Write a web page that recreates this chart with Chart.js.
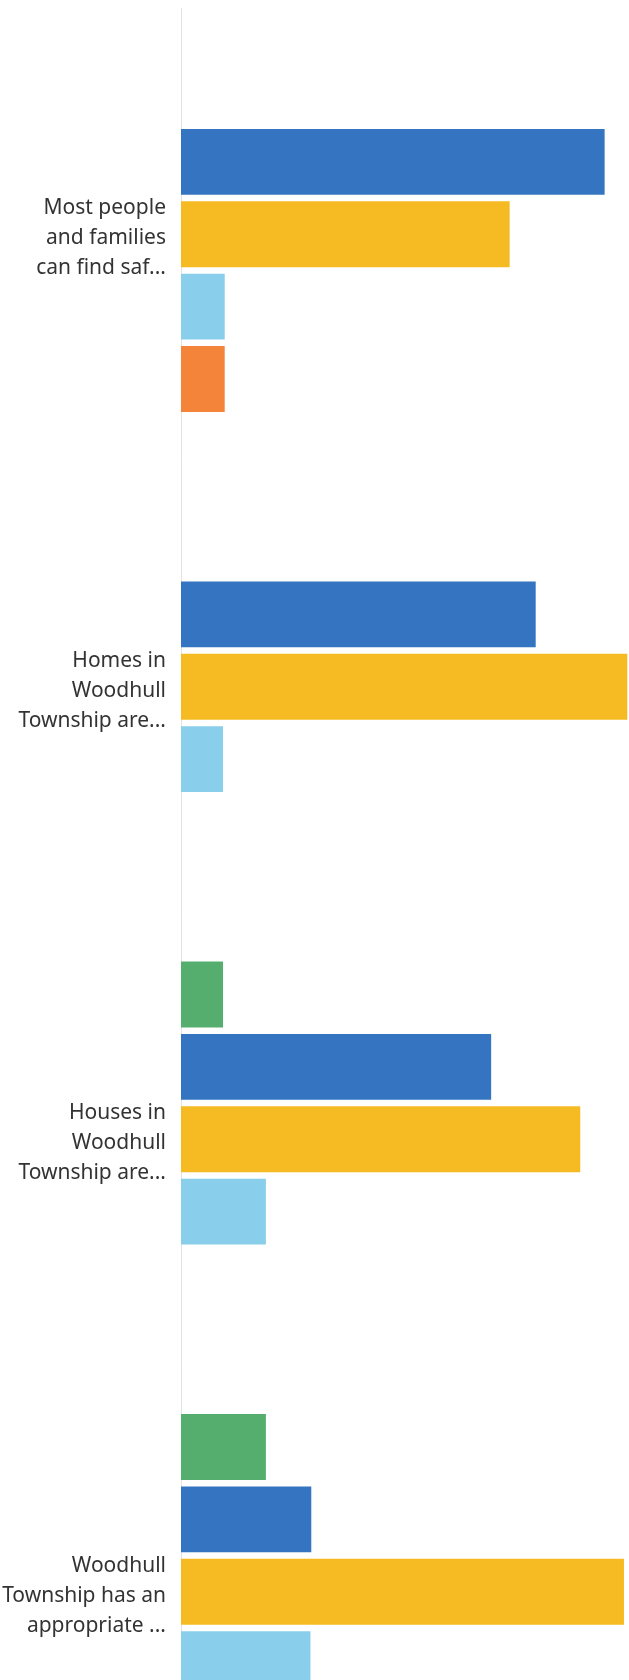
<!DOCTYPE html>
<html>
<head>
<meta charset="utf-8">
<script src="https://cdn.jsdelivr.net/npm/chart.js@4"></script>
<style>
  html, body {
    margin: 0;
    padding: 0;
    background: #ffffff;
  }
  #clip {
    position: relative;
    width: 629px;
    height: 1680px;
    overflow: hidden;
  }
  #wrap {
    position: absolute;
    left: 0;
    top: 0;
    width: 629px;
    height: 1818px;
  }
</style>
</head>
<body>
<div id="clip"><div id="wrap"><canvas id="barChart"></canvas></div></div>
<script>
const labels = [
  ["Most people", "and families", "can find saf..."],
  ["Homes in", "Woodhull", "Township are..."],
  ["Houses in", "Woodhull", "Township are..."],
  ["Woodhull", "Township has an", "appropriate ..."],
];

// percent of answers per statement
const stronglyAgree = [null, null, 5.0, 10.1];
const agree = [50.4, 42.2, 36.9, 15.5];
const neutral = [39.1, 53.1, 47.5, 52.7];
const disagree = [5.2, 5.0, 10.1, 15.4];
const stronglyDisagree = [5.2, null, null, 6.3];

const data = {
  labels: labels,
  datasets: [
    { label: "Strongly agree", data: stronglyAgree, backgroundColor: "#55ad6e" },
    { label: "Agree", data: agree, backgroundColor: "#3474c0" },
    { label: "Neither agree nor disagree", data: neutral, backgroundColor: "#f6bb22" },
    { label: "Disagree", data: disagree, backgroundColor: "#89cfeb" },
    { label: "Strongly disagree", data: stronglyDisagree, backgroundColor: "#f5843b" },
  ],
};

new Chart(document.getElementById("barChart"), {
  type: "bar",
  data: data,
  options: {
    indexAxis: "y",
    responsive: true,
    maintainAspectRatio: false,
    animation: false,
    categoryPercentage: 0.8,
    barPercentage: 0.91,
    layout: { padding: { top: 8, right: 0, bottom: 0, left: 0 } },
    plugins: {
      legend: { display: false },
      tooltip: { enabled: false },
    },
    scales: {
      x: {
        display: false,
        min: 0,
        max: 53.3,
      },
      y: {
        grid: { display: false, drawTicks: false },
        border: { display: true, color: "#e2e2e2", width: 1 },
        ticks: {
          padding: 15,
          labelOffset: 4,
          color: "#333333",
          font: { family: "Noto Sans", size: 21, lineHeight: 1.43 },
        },
        afterFit: (scale) => {
          // fixed label column, no extra room for the tall first/last labels
          scale.width = 181;
          scale.paddingTop = 0;
          scale.paddingBottom = 0;
        },
      },
    },
  },
});
</script>
</body>
</html>
